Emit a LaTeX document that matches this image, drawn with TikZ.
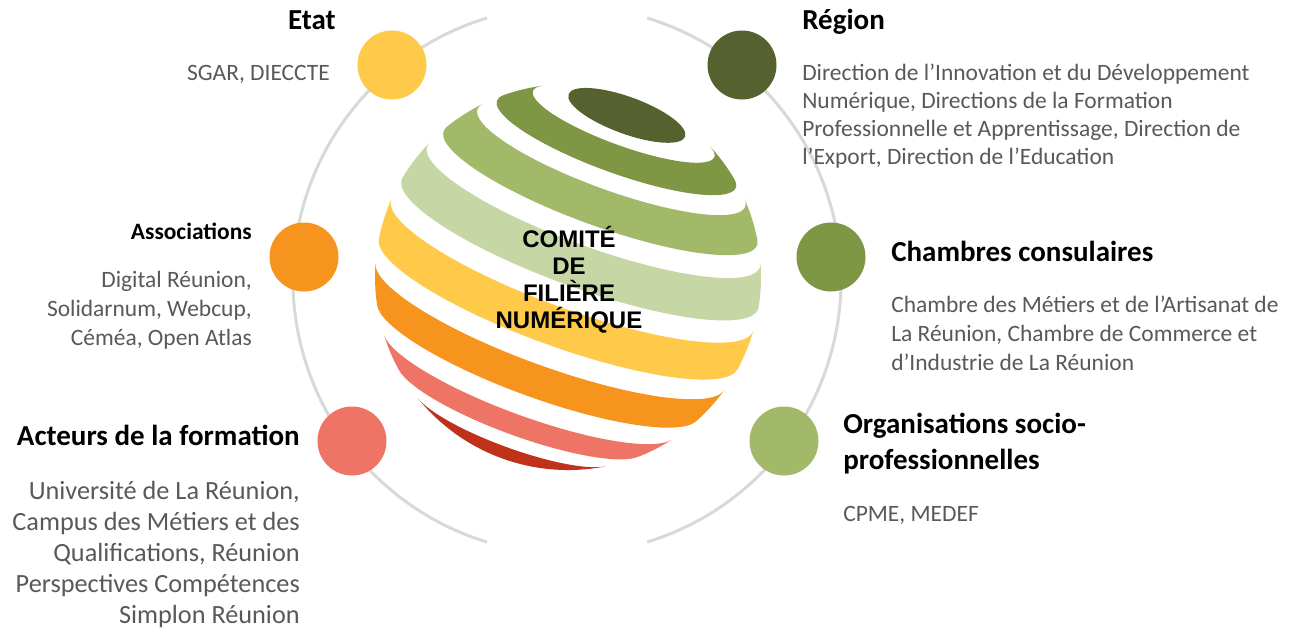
\documentclass[tikz,border=0pt]{standalone}
\usepackage{fontspec}
\setmainfont{Carlito}
\newfontfamily\comitefont{Liberation Sans}
\usetikzlibrary{positioning}

\definecolor{capgreen}{HTML}{556230}
\definecolor{midgreen}{HTML}{7F9645}
\definecolor{lightgreen}{HTML}{A2B96A}
\definecolor{palegreen}{HTML}{C6D6A5}
\definecolor{sunyellow}{HTML}{FFC94A}
\definecolor{deeporange}{HTML}{F7941E}
\definecolor{salmon}{HTML}{EE7566}
\definecolor{brickred}{HTML}{C0311A}
\definecolor{ringgray}{HTML}{D9D9D9}
\definecolor{bodygray}{HTML}{595959}

% globe: radius (px) and tilt of the pole towards the viewer (deg)
\newcommand{\globeR}{193}
\newcommand{\globeTilt}{13}
% where latitude #1 meets the rim, and where its front arc starts
\newcommand{\latA}[1]{acos(sin(#1)/cos(\globeTilt))}
\newcommand{\latT}[1]{asin(-tan(#1)*tan(\globeTilt))}
% visible stripe between latitudes #1 < #2
\newcommand{\latband}[2]{%
  ({\globeR*sin(\latA{#1})},{\globeR*cos(\latA{#1})})
  arc[x radius={\globeR*cos(#1)}, y radius={\globeR*cos(#1)*sin(\globeTilt)},
      start angle={-\latT{#1}}, end angle={\latT{#1}-180}]
  arc[radius=\globeR, start angle={90+\latA{#1}}, end angle={90+\latA{#2}}]
  arc[x radius={\globeR*cos(#2)}, y radius={\globeR*cos(#2)*sin(\globeTilt)},
      start angle={\latT{#2}-180}, end angle={-\latT{#2}}]
  arc[radius=\globeR, start angle={90-\latA{#2}}, end angle={90-\latA{#1}}]
  -- cycle}
% visible part below latitude #1
\newcommand{\latbelow}[1]{%
  ({\globeR*sin(\latA{#1})},{\globeR*cos(\latA{#1})})
  arc[x radius={\globeR*cos(#1)}, y radius={\globeR*cos(#1)*sin(\globeTilt)},
      start angle={-\latT{#1}}, end angle={\latT{#1}-180}]
  arc[radius=\globeR, start angle={90+\latA{#1}}, end angle={450-\latA{#1}}]
  -- cycle}

\tikzset{
    ring/.style={draw=ringgray, line width=2.25pt},
    dot/.style={circle, inner sep=0pt, minimum size=51.75pt},
    title/.style={inner sep=0pt, font=\fontsize{21.75}{27}\selectfont\bfseries},
    body/.style={inner sep=0pt, text=bodygray, font=\fontsize{17.6}{21}\selectfont}
}

\begin{document}
\begin{tikzpicture}[x=0.75pt,y=0.75pt]
    \useasboundingbox[fill=white] (0,0) rectangle (1302,-629);

    % outer ring
    \coordinate (ringc) at (567,-280);
    \draw[ring] (ringc) ++(73:274) arc[start angle=73, end angle=-73, radius=274];
    \draw[ring] (ringc) ++(107:274) arc[start angle=107, end angle=253, radius=274];

    \node[dot, fill=sunyellow] (etat) at (392,-65) {};
    \node[dot, fill=capgreen] (region) at (742,-65) {};
    \node[dot, fill=deeporange] (assoc) at (304,-257) {};
    \node[dot, fill=midgreen] (chambres) at (831,-257) {};
    \node[dot, fill=salmon] (acteurs) at (352,-441) {};
    \node[dot, fill=lightgreen] (orga) at (784,-441) {};

    % striped globe
    \begin{scope}[shift={(568,-277)}, rotate=-20]
        \fill[brickred] \latbelow{-56.6};
        \fill[salmon] \latband{-47.2}{-36.3};
        \fill[deeporange] \latband{-27.6}{-15.6};
        \fill[sunyellow] \latband{-8.4}{3.8};
        \fill[palegreen] \latband{10.7}{23.4};
        \fill[lightgreen] \latband{30.2}{42.4};
        \fill[midgreen] \latband{48.8}{60};
        \begin{scope}
            \clip (0,0) circle[radius=\globeR];
            \fill[capgreen] (0,172) ellipse[x radius=62, y radius=18.5];
        \end{scope}
    \end{scope}

    % multi-line nodes sit on the baseline of their last line
    \node[inner sep=0pt, align=center, anchor=base, font=\comitefont\fontsize{18}{20.25}\selectfont\bfseries] (comite) at (569,-328) {COMITÉ\\DE\\FILIÈRE\\NUMÉRIQUE};

    % labels
    \node[title, anchor=base east] (etatT) at (336,-29) {Etat};
    \node[body, anchor=base east] (etatB) at (330,-80) {SGAR, DIECCTE};

    \node[title, anchor=base west] (regionT) at (802,-29) {Région};
    \node[body, anchor=base west, align=left] (regionB) at (802,-164) {Direction de l’Innovation et du Développement\\Numérique, Directions de la Formation\\Professionnelle et Apprentissage, Direction de\\l’Export, Direction de l’Education};

    \node[body, anchor=base east, font=\fontsize{17.6}{21}\selectfont\bfseries, text=black] (assocT) at (252,-239) {Associations};
    \node[body, anchor=base east, align=right, font=\fontsize{17.6}{21.4}\selectfont] (assocB) at (252,-345) {Digital Réunion,\\Solidarnum, Webcup,\\Céméa, Open Atlas};

    \node[title, anchor=base west] (chambresT) at (891,-261) {Chambres consulaires};
    \node[body, anchor=base west, align=left, font=\fontsize{17.6}{21.75}\selectfont] (chambresB) at (891,-370) {Chambre des Métiers et de l’Artisanat de\\La Réunion, Chambre de Commerce et\\d’Industrie de La Réunion};

    \node[title, anchor=base west, align=left] (orgaT) at (843,-469) {Organisations socio-\\professionnelles};
    \node[body, anchor=base west] (orgaB) at (843,-521) {CPME, MEDEF};

    \node[title, anchor=base east] (acteursT) at (300,-445) {Acteurs de la formation};
    \node[body, anchor=base east, align=right, font=\fontsize{19.7}{23.25}\selectfont] (acteursB) at (300,-623) {Université de La Réunion,\\Campus des Métiers et des\\Qualifications, Réunion\\Perspectives Compétences\\Simplon Réunion};
\end{tikzpicture}
\end{document}
